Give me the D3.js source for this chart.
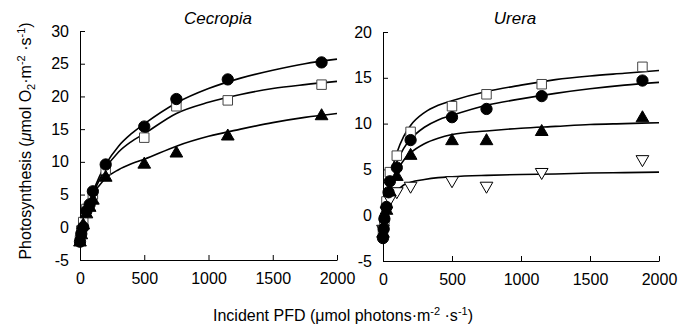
<!DOCTYPE html>
<html>
<head>
<meta charset="utf-8">
<script src="https://cdn.jsdelivr.net/npm/d3@7"></script>
<style>
body{margin:0;background:#fff;}
svg{font-family:"Liberation Sans",Arial,sans-serif;}
</style>
</head>
<body>
<div class="chart"></div>
<script>
// light levels (PFD) and photosynthesis readings
var cecCircX=[0,10,25,50,75,100,200,500,750,1150,1880];
var cecCircY=[-2.2,-1,0,2.5,3.5,5.5,9.6,15.4,19.6,22.6,25.2];
var cecSqX=[0,10,25,50,100,200,500,750,1150,1880];
var cecSqY=[-2,-0.5,0.8,2.8,5,8.8,13.7,18.5,19.4,21.8];
var cecTriX=[0,10,25,50,75,100,200,500,750,1150,1880];
var cecTriY=[-2.3,-1.2,0.3,2,3,4.1,7.6,9.6,11.3,13.9,17];

var urSqX=[0,10,25,50,100,200,500,750,1150,1880];
var urSqY=[-1.8,-0.5,1.5,4.7,6.5,9.1,11.9,13.2,14.3,16.2];
var urCircX=[0,5,10,25,40,50,100,200,500,750,1150,1880];
var urCircY=[-2.5,-1.5,-0.4,0.9,2.5,3.7,5.2,8.2,10.7,11.6,13,14.7];
var urTriX=[0,25,50,100,200,500,750,1150,1880];
var urTriY=[-2,0.5,2.5,4.2,6.5,8.1,8.1,9.1,10.6];
var urInvX=[0,25,50,100,200,500,750,1150,1880];
var urInvY=[-1.5,0.5,1.8,2.6,3.2,3.8,3.2,4.7,6.1];

// fitted light-response curves, read at these PFD values
var curveX=[0,25,50,100,150,200,300,400,500,750,1000,1250,1500,1750,2000];
var cecCircFit=[-2.3,0,2.3,5.3,7.7,9.6,12.4,14.3,15.8,19.0,21.2,22.8,24.0,25.0,25.7];
var cecSqFit=[-2.3,0,2.2,5,7.2,9.0,11.5,13.1,14.3,17.4,19.1,20.3,21.2,21.8,22.3];
var cecTriFit=[-2.3,0.5,2.5,5.0,6.4,7.5,8.8,9.7,10.4,12.4,13.9,15.0,16.0,16.8,17.4];
var urSqFit=[-2,1.5,4,6.8,8.6,9.8,11.2,12.0,12.5,13.5,14.2,14.8,15.2,15.5,15.8];
var urCircFit=[-2.3,1,3.5,5.8,7.3,8.3,9.6,10.4,10.9,12.0,12.7,13.3,13.8,14.2,14.5];
var urTriFit=[-2,0.8,2.8,4.8,6.0,6.8,7.8,8.4,8.8,9.2,9.5,9.7,9.9,10.0,10.1];
var urInvFit=[-1.5,0.2,1.5,2.6,3.3,3.6,3.9,4.1,4.2,4.35,4.45,4.5,4.6,4.65,4.7];

var xTicks=[0,500,1000,1500,2000];

var svgWidth=681, svgHeight=332;
var svg=d3.select(".chart").append("svg")
    .attr("width",svgWidth)
    .attr("height",svgHeight);

function zip(xs,ys){return xs.map((x,i)=>[x,ys[i]]);}

function panel(opt){
    var xScale=d3.scaleLinear().domain([0,2000]).range(opt.xr);
    var yScale=d3.scaleLinear().domain(opt.yd).range(opt.yr);

    svg.append("g")
        .attr("transform",`translate(0,${opt.yr[0]})`)
        .call(d3.axisBottom(xScale).tickValues(xTicks).tickSizeInner(-5).tickSizeOuter(0).tickPadding(13).tickFormat(d=>String(d)))
        .call(g=>g.selectAll("text").attr("font-size",16).attr("fill","#000"));
    svg.append("g")
        .attr("transform",`translate(${opt.xr[0]},0)`)
        .call(d3.axisLeft(yScale).tickValues(opt.yTicks).tickSizeInner(-5).tickSizeOuter(0).tickPadding(11).tickFormat(d=>String(d)))
        .call(g=>g.selectAll("text").attr("font-size",16).attr("fill","#000"));

    svg.append("text")
        .attr("x",opt.titleX).attr("y",24)
        .attr("text-anchor","middle")
        .attr("font-size",17).attr("font-style","italic")
        .text(opt.title);

    var line=d3.line().x(d=>xScale(d[0])).y(d=>yScale(d[1])).curve(d3.curveMonotoneX);
    opt.fits.forEach(f=>{
        svg.append("path")
            .attr("d",line(zip(curveX,f)))
            .attr("fill","none").attr("stroke","#000").attr("stroke-width",1.6);
    });

    opt.series.forEach(s=>{
        var sym=d3.symbol().type(s.type).size(s.size);
        svg.append("g").selectAll("path")
            .data(zip(s.x,s.y))
            .enter()
            .append("path")
            .attr("d",sym)
            .attr("transform",d=>`translate(${xScale(d[0])},${yScale(d[1])})`+(s.flip?" rotate(180)":""))
            .attr("fill",s.fill)
            .attr("stroke",s.stroke)
            .attr("stroke-width",1);
    });
}

panel({
    xr:[80,337], yd:[-5,30], yr:[260,31],
    yTicks:[-5,0,5,10,15,20,25,30],
    title:"Cecropia", titleX:218,
    fits:[cecCircFit,cecSqFit,cecTriFit],
    series:[
        {x:cecSqX,y:cecSqY,type:d3.symbolSquare,size:90,fill:"#fff",stroke:"#444"},
        {x:cecTriX,y:cecTriY,type:d3.symbolTriangle,size:70,fill:"#000",stroke:"#000"},
        {x:cecCircX,y:cecCircY,type:d3.symbolCircle,size:100,fill:"#000",stroke:"#000"}
    ]
});

panel({
    xr:[383,659], yd:[-5,20], yr:[261,32],
    yTicks:[-5,0,5,10,15,20],
    title:"Urera", titleX:515,
    fits:[urSqFit,urCircFit,urTriFit,urInvFit],
    series:[
        {x:urSqX,y:urSqY,type:d3.symbolSquare,size:90,fill:"#fff",stroke:"#444"},
        {x:urInvX,y:urInvY,type:d3.symbolTriangle,size:70,fill:"#fff",stroke:"#000",flip:true},
        {x:urTriX,y:urTriY,type:d3.symbolTriangle,size:70,fill:"#000",stroke:"#000"},
        {x:urCircX,y:urCircY,type:d3.symbolCircle,size:100,fill:"#000",stroke:"#000"}
    ]
});

// axis titles
var yt=svg.append("text")
    .attr("transform","translate(31,141) rotate(-90)")
    .attr("text-anchor","middle")
    .attr("font-size",16);
yt.append("tspan").text("Photosynthesis (");
yt.append("tspan").attr("font-style","italic").text("μ");
yt.append("tspan").text("mol O");
yt.append("tspan").attr("font-size",11).attr("dy",4).text("2");
yt.append("tspan").attr("dy",-4).text("·m");
yt.append("tspan").attr("font-size",11).attr("dy",-6).text("-2");
yt.append("tspan").attr("dy",6).text(" ·s");
yt.append("tspan").attr("font-size",11).attr("dy",-6).text("-1");
yt.append("tspan").attr("dy",6).text(")");

var xt=svg.append("text")
    .attr("x",343).attr("y",321)
    .attr("text-anchor","middle")
    .attr("font-size",16);
xt.append("tspan").text("Incident PFD (μmol photons·m");
xt.append("tspan").attr("font-size",11).attr("dy",-6).text("-2");
xt.append("tspan").attr("dy",6).text(" ·s");
xt.append("tspan").attr("font-size",11).attr("dy",-6).text("-1");
xt.append("tspan").attr("dy",6).text(")");
</script>
</body>
</html>
